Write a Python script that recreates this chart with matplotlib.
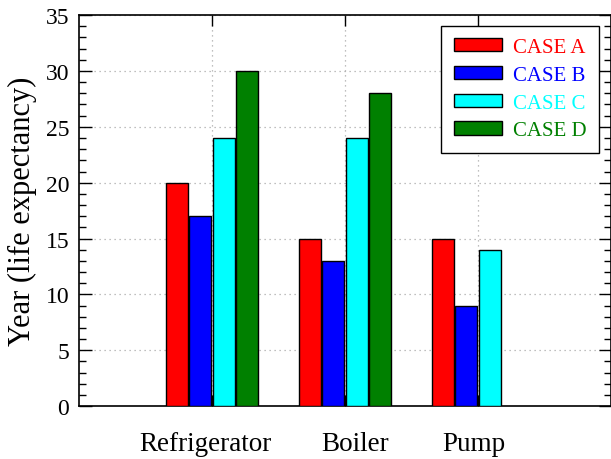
import numpy as np
import matplotlib
matplotlib.use("Agg")
import matplotlib.pyplot as plt
from matplotlib.ticker import MultipleLocator
from matplotlib.transforms import ScaledTranslation

plt.rcParams['font.family'] = ['Liberation Serif', 'DejaVu Serif']

categories = ["Refrigerator", "Boiler", "Pump"]
case_names = ["CASE A", "CASE B", "CASE C", "CASE D"]
case_colors = ["#ff0000", "#0000ff", "#00ffff", "#008000"]
case_a = [20, 15, 15]
case_b = [17, 13, 9]
case_c = [24, 24, 14]
case_d = [30, 28, None]   # no CASE D bar for the pump

series = [case_a, case_b, case_c, case_d]

fig = plt.figure(figsize=(6.11, 4.60), dpi=100)
ax = fig.add_axes([0.129, 0.115, 0.871, 0.85])

x = np.arange(len(categories))
width = 0.165
offsets = [-0.264, -0.088, 0.088, 0.264]

for vals, name, col, off in zip(series, case_names, case_colors, offsets):
    xs = [xi + off for xi, v in zip(x, vals) if v is not None]
    ys = [v for v in vals if v is not None]
    ax.bar(xs, ys, width, color=col, edgecolor='black', linewidth=1.0,
           label=name, zorder=3)

ax.set_xlim(-1, 3)
ax.set_ylim(0, 35)
ax.set_xticks(x)
ax.set_xticklabels(categories, fontsize=19.5)
ax.yaxis.set_major_locator(MultipleLocator(5))
ax.yaxis.set_minor_locator(MultipleLocator(1))

ax.tick_params(axis='both', which='both', direction='in',
               top=True, right=True)
ax.tick_params(axis='y', which='major', length=9, width=1, labelsize=17, pad=7)
ax.tick_params(axis='y', which='minor', length=5, width=1)
ax.tick_params(axis='x', which='major', length=8, width=1, pad=18)

# the category labels sit a little off their ticks in the original
shifts = [-6, 10, -4]
for lab, dx in zip(ax.get_xticklabels(), shifts):
    lab.set_transform(lab.get_transform() +
                      ScaledTranslation(dx / 100, 0, fig.dpi_scale_trans))

ax.grid(True, which='major', linestyle=(0, (1, 3)), color='#aaaaaa',
        linewidth=0.9, zorder=0)
ax.set_axisbelow(True)

for sp in ax.spines.values():
    sp.set_linewidth(1.2)

ax.set_ylabel("Year (life expectancy)", fontsize=22, labelpad=6)

leg = ax.legend(loc='upper right', bbox_to_anchor=(0.978, 0.973),
                fontsize=15, frameon=True, fancybox=False, framealpha=1,
                edgecolor='black', handlelength=2.3, handleheight=0.6,
                handletextpad=0.55, labelspacing=0.42, borderpad=0.6,
                borderaxespad=0)
leg.get_frame().set_linewidth(1.0)
for txt, col in zip(leg.get_texts(), case_colors):
    txt.set_color(col)

fig.savefig("out.png", dpi=100)
